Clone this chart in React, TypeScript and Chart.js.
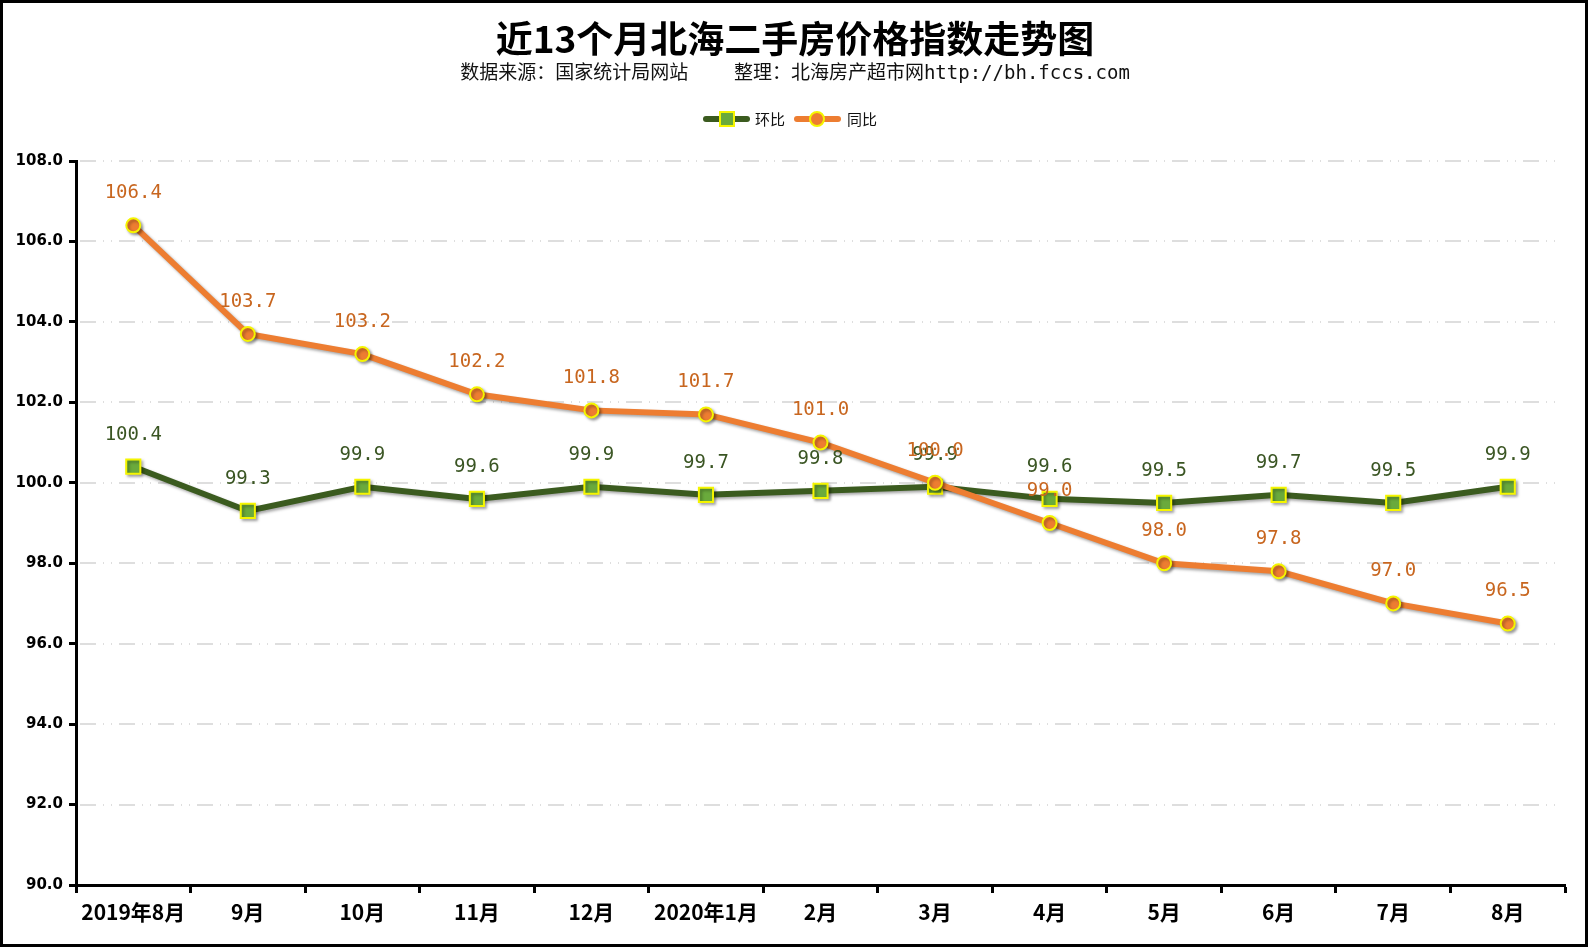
import React, { useEffect, useRef } from "react";
import { Chart, registerables } from "chart.js";

Chart.register(...registerables);

const categories = ["2019年8月", "9月", "10月", "11月", "12月", "2020年1月", "2月", "3月", "4月", "5月", "6月", "7月", "8月"];
const momValues = [100.4, 99.3, 99.9, 99.6, 99.9, 99.7, 99.8, 99.9, 99.6, 99.5, 99.7, 99.5, 99.9];
const yoyValues = [106.4, 103.7, 103.2, 102.2, 101.8, 101.7, 101.0, 100.0, 99.0, 98.0, 97.8, 97.0, 96.5];
const seriesNames = ["环比", "同比"];
const titleText = "近13个月北海二手房价格指数走势图";
const subtitleText = "数据来源：国家统计局网站    整理：北海房产超市网http://bh.fccs.com";
const yMin = 90;
const yMax = 108;
const yStep = 2;

const GREEN_LINE = "#3B5B1F";
const GREEN_FILL = "#6AAA3C";
const GREEN_LABEL = "#3A5523";
const ORANGE_LINE = "#ED7D31";
const ORANGE_LABEL = "#C8661F";
const YELLOW = "#F5F500";

const W = 1590;
const H = 947;

export default function App() {
  const ref = useRef<HTMLCanvasElement | null>(null);

  useEffect(() => {
    const canvas = ref.current;
    if (!canvas) return;

    const decorPlugin = {
      id: "decor",
      beforeDatasetsDraw(chart: any) {
        const { ctx, chartArea, scales } = chart;
        const y = scales.y;
        ctx.save();
        ctx.strokeStyle = "#dedede";
        ctx.lineWidth = 2;
        ctx.setLineDash([16, 7, 1, 7, 1, 7]);
        y.ticks.forEach((t: any) => {
          if (t.value === yMin) return;
          const py = Math.round(y.getPixelForValue(t.value));
          ctx.beginPath();
          ctx.moveTo(chartArea.left + 4, py);
          ctx.lineTo(chartArea.right - 5, py);
          ctx.stroke();
        });
        ctx.restore();
      },
      beforeDatasetDraw(chart: any) {
        const ctx = chart.ctx;
        ctx.save();
        ctx.shadowColor = "rgba(0,0,0,0.35)";
        ctx.shadowBlur = 3;
        ctx.shadowOffsetX = 2;
        ctx.shadowOffsetY = 2;
      },
      afterDatasetDraw(chart: any) {
        chart.ctx.restore();
      },
      afterDatasetsDraw(chart: any) {
        const { ctx } = chart;
        ctx.save();
        ctx.font = "19px 'DejaVu Sans Mono'";
        ctx.textAlign = "center";
        ctx.textBaseline = "middle";
        [0, 1].forEach((di) => {
          const meta = chart.getDatasetMeta(di);
          const ds = chart.data.datasets[di];
          ctx.fillStyle = di === 0 ? GREEN_LABEL : ORANGE_LABEL;
          meta.data.forEach((pt: any, i: number) => {
            const v = ds.data[i] as number;
            ctx.fillText(v.toFixed(1), pt.x, pt.y - 32);
          });
        });
        ctx.restore();
      },
      afterDraw(chart: any) {
        const { ctx } = chart;
        const cx = W / 2;
        ctx.save();
        ctx.fillStyle = "#000";
        ctx.textAlign = "center";
        ctx.textBaseline = "middle";
        ctx.font = "bold 37px 'Noto Sans CJK SC'";
        ctx.fillText(titleText, cx, 39);
        ctx.font = "19px 'DejaVu Sans Mono', 'Noto Sans CJK SC'";
        ctx.fillStyle = "#111";
        ctx.fillText(subtitleText, cx, 74);

        // Legend
        const ly = 119;
        const lx = cx - 92;
        ctx.lineCap = "round";
        ctx.lineWidth = 6;
        ctx.strokeStyle = GREEN_LINE;
        ctx.beginPath();
        ctx.moveTo(lx + 3, ly);
        ctx.lineTo(lx + 44, ly);
        ctx.stroke();
        ctx.fillStyle = GREEN_FILL;
        ctx.fillRect(lx + 17, ly - 7, 14, 14);
        ctx.lineWidth = 2;
        ctx.strokeStyle = YELLOW;
        ctx.strokeRect(lx + 17, ly - 7, 14, 14);
        ctx.fillStyle = "#111";
        ctx.textAlign = "left";
        ctx.font = "15px 'Noto Sans CJK SC'";
        ctx.fillText(seriesNames[0], lx + 52, ly);

        const ox = lx + 91;
        ctx.lineWidth = 6;
        ctx.strokeStyle = ORANGE_LINE;
        ctx.beginPath();
        ctx.moveTo(ox + 3, ly);
        ctx.lineTo(ox + 44, ly);
        ctx.stroke();
        ctx.fillStyle = ORANGE_LINE;
        ctx.beginPath();
        ctx.arc(ox + 23, ly, 7, 0, Math.PI * 2);
        ctx.fill();
        ctx.lineWidth = 2;
        ctx.strokeStyle = YELLOW;
        ctx.stroke();
        ctx.fillStyle = "#111";
        ctx.fillText(seriesNames[1], ox + 53, ly);

        // Outer frame
        ctx.strokeStyle = "#000";
        ctx.lineWidth = 3;
        ctx.strokeRect(1.5, 1.5, W - 5, H - 3);
        ctx.restore();
      },
    };

    const chart = new Chart(canvas, {
      type: "line",
      data: {
        labels: categories,
        datasets: [
          {
            label: seriesNames[0],
            data: momValues,
            borderColor: GREEN_LINE,
            backgroundColor: GREEN_FILL,
            borderWidth: 6,
            pointStyle: "rect",
            pointRadius: 10,
            pointBorderColor: YELLOW,
            pointBackgroundColor: GREEN_FILL,
            pointBorderWidth: 2,
            tension: 0,
            order: 2,
          },
          {
            label: seriesNames[1],
            data: yoyValues,
            borderColor: ORANGE_LINE,
            backgroundColor: ORANGE_LINE,
            borderWidth: 6,
            pointStyle: "circle",
            pointRadius: 7,
            pointBorderColor: YELLOW,
            pointBackgroundColor: ORANGE_LINE,
            pointBorderWidth: 2,
            tension: 0,
            order: 1,
          },
        ],
      },
      options: {
        responsive: false,
        animation: false,
        devicePixelRatio: 1,
        layout: { padding: { top: 161, left: 0, right: 25, bottom: 10 } },
        plugins: {
          legend: { display: false },
          title: { display: false },
          tooltip: { enabled: false },
        },
        scales: {
          x: {
            offset: true,
            grid: {
              offset: true,
              drawOnChartArea: false,
              drawTicks: true,
              tickLength: 8,
              tickWidth: 3,
              tickColor: "#000",
            },
            border: { display: true, color: "#000", width: 3 },
            ticks: {
              color: "#000",
              font: { family: "'Noto Sans CJK SC'", size: 21, weight: "bold" },
              padding: 6,
              maxRotation: 0,
              autoSkip: false,
            },
            afterFit(scale: any) {
              scale.height = 52;
            },
          },
          y: {
            min: yMin,
            max: yMax,
            ticks: {
              stepSize: yStep,
              color: "#000",
              font: { family: "'DejaVu Sans'", size: 15, weight: "bold" },
              padding: 6,
              callback: (v: any) => Number(v).toFixed(1),
            },
            grid: {
              drawOnChartArea: false,
              drawTicks: true,
              tickLength: 7,
              tickWidth: 3,
              tickColor: "#000",
            },
            border: { display: true, color: "#000", width: 3 },
            afterFit(scale: any) {
              scale.width = 76;
            },
          },
        },
      },
      plugins: [decorPlugin],
    });

    return () => chart.destroy();
  }, []);

  return (
    <div style={{ position: "fixed", left: 0, top: 0, width: W, height: H, background: "#fff" }}>
      <canvas ref={ref} width={W} height={H} style={{ width: W, height: H, display: "block" }} />
    </div>
  );
}
